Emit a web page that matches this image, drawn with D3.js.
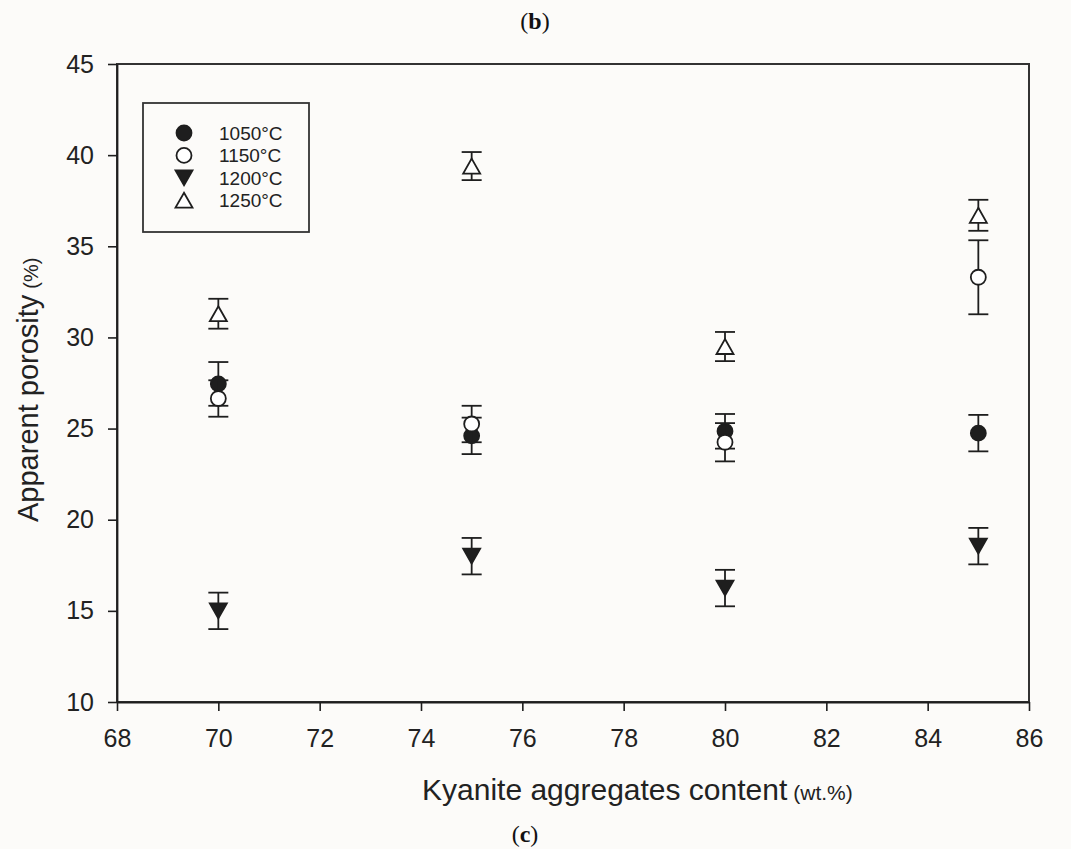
<!DOCTYPE html>
<html>
<head>
<meta charset="utf-8">
<script src="https://cdn.jsdelivr.net/npm/d3@7"></script>
<style>
  body { margin: 0; background: #fcfbf9; }
  svg { display: block; font-family: Arial, "Liberation Sans", sans-serif; }
</style>
</head>
<body>
<div id="chart"></div>
<script>
// kyanite aggregates content (wt.%)
const contents = [70, 75, 80, 85];
const temps = ["1050°C", "1150°C", "1200°C", "1250°C"];

// apparent porosity (%) and error bars, one pair per firing temperature
const por1050 = [27.45, 24.6, 24.85, 24.75];
const err1050 = [1.2, 1.0, 0.95, 1.0];
const por1150 = [26.65, 25.25, 24.25, 33.3];
const err1150 = [1.0, 1.0, 1.05, 2.03];
const por1200 = [15.0, 18.0, 16.25, 18.55];
const err1200 = [1.0, 1.0, 1.0, 1.0];
const por1250 = [31.3, 39.4, 29.5, 36.7];
const err1250 = [0.82, 0.77, 0.8, 0.85];

const xTicks = [68, 70, 72, 74, 76, 78, 80, 82, 84, 86];
const yTicks = [10, 15, 20, 25, 30, 35, 40, 45];

const width = 1071;
const height = 849;
const marginTop = 64;
const marginRight = 42;
const marginBottom = 147;
const marginLeft = 117;
const ink = "#1e1e1e";

// triangles centred on their bounding box, like the original software does
const triUp = {
  draw(ctx, s) {
    const h = s * 0.88;
    ctx.moveTo(0, -h / 2);
    ctx.lineTo(s / 2, h / 2);
    ctx.lineTo(-s / 2, h / 2);
    ctx.closePath();
  }
};
const triDown = {
  draw(ctx, s) {
    const h = s * 0.88;
    ctx.moveTo(0, h / 2);
    ctx.lineTo(s / 2, -h / 2);
    ctx.lineTo(-s / 2, -h / 2);
    ctx.closePath();
  }
};
const circ = {
  draw(ctx, s) {
    ctx.arc(0, 0, s / 2, 0, 2 * Math.PI);
  }
};

const series = [
  { name: temps[0], values: por1050, errors: err1050, shape: circ, size: 15, fill: ink },
  { name: temps[1], values: por1150, errors: err1150, shape: circ, size: 15, fill: "#fff" },
  { name: temps[2], values: por1200, errors: err1200, shape: triDown, size: 17, fill: ink },
  { name: temps[3], values: por1250, errors: err1250, shape: triUp, size: 17, fill: "#fff" }
];

const x = d3.scaleLinear([68, 86], [marginLeft, width - marginRight]);
const y = d3.scaleLinear([10, 45], [height - marginBottom, marginTop]);

const svg = d3.select("#chart")
  .append("svg")
  .attr("width", width)
  .attr("height", height)
  .attr("viewBox", [0, 0, width, height]);

svg.append("rect")
  .attr("width", width)
  .attr("height", height)
  .attr("fill", "#fcfbf9");

// caption of the panel above and this panel
svg.append("text")
  .attr("x", 535)
  .attr("y", 29)
  .attr("text-anchor", "middle")
  .style("font-family", "'Liberation Serif', 'Times New Roman', serif")
  .style("font-size", "24px")
  .attr("fill", "#111")
  .html("(<tspan font-weight='bold'>b</tspan>)");

svg.append("text")
  .attr("x", 525)
  .attr("y", 842)
  .attr("text-anchor", "middle")
  .style("font-family", "'Liberation Serif', 'Times New Roman', serif")
  .style("font-size", "24px")
  .attr("fill", "#111")
  .html("(<tspan font-weight='bold'>c</tspan>)");

// frame
svg.append("rect")
  .attr("x", x(68))
  .attr("y", y(45))
  .attr("width", x(86) - x(68))
  .attr("height", y(10) - y(45))
  .attr("fill", "none")
  .attr("stroke", "#333")
  .attr("stroke-width", 2);

const styleAxis = (g) => {
  g.attr("font-family", null).attr("font-size", null);
  g.select(".domain").attr("stroke", ink).attr("stroke-width", 1.8);
  g.selectAll(".tick line").attr("stroke", ink).attr("stroke-width", 1.6);
  g.selectAll(".tick text")
    .attr("fill", "#222")
    .style("font-size", "25px");
};

svg.append("g")
  .attr("transform", `translate(0,${y(10)})`)
  .call(d3.axisBottom(x).tickValues(xTicks).tickSize(9).tickSizeOuter(0).tickPadding(18))
  .call(styleAxis);

svg.append("g")
  .attr("transform", `translate(${x(68)},0)`)
  .call(d3.axisLeft(y).tickValues(yTicks).tickSize(9).tickSizeOuter(0).tickPadding(14))
  .call(styleAxis);

// axis titles
svg.append("text")
  .attr("x", 422)
  .attr("y", 800)
  .attr("fill", "#222")
  .style("font-size", "30px")
  .text("Kyanite aggregates content")
  .append("tspan")
  .attr("dx", 6)
  .style("font-size", "21px")
  .text("(wt.%)");

svg.append("text")
  .attr("transform", "translate(38,522) rotate(-90)")
  .attr("fill", "#222")
  .style("font-size", "29px")
  .text("Apparent porosity")
  .append("tspan")
  .attr("dx", 6)
  .style("font-size", "20px")
  .text("(%)");

// error bars and markers, series by series
const capHalf = 10;
for (const s of series) {
  const g = svg.append("g");
  const pts = contents.map((c, i) => ({ c, v: s.values[i], e: s.errors[i] }));

  const bars = g.selectAll("g.err")
    .data(pts)
    .join("g")
    .attr("class", "err")
    .attr("stroke", ink)
    .attr("stroke-width", 1.8);
  bars.append("line")
    .attr("x1", (d) => x(d.c)).attr("x2", (d) => x(d.c))
    .attr("y1", (d) => y(d.v - d.e)).attr("y2", (d) => y(d.v + d.e));
  bars.append("line")
    .attr("x1", (d) => x(d.c) - capHalf).attr("x2", (d) => x(d.c) + capHalf)
    .attr("y1", (d) => y(d.v + d.e)).attr("y2", (d) => y(d.v + d.e));
  bars.append("line")
    .attr("x1", (d) => x(d.c) - capHalf).attr("x2", (d) => x(d.c) + capHalf)
    .attr("y1", (d) => y(d.v - d.e)).attr("y2", (d) => y(d.v - d.e));

  g.selectAll("path.mark")
    .data(pts)
    .join("path")
    .attr("class", "mark")
    .attr("d", d3.symbol(s.shape, s.size))
    .attr("transform", (d) => `translate(${x(d.c)},${y(d.v)})`)
    .attr("fill", s.fill)
    .attr("stroke", ink)
    .attr("stroke-width", 1.8);
}

// legend
const legend = svg.append("g");
legend.append("rect")
  .attr("x", 143)
  .attr("y", 103)
  .attr("width", 166)
  .attr("height", 129)
  .attr("fill", "none")
  .attr("stroke", "#333")
  .attr("stroke-width", 1.8);

const rows = legend.selectAll("g.row")
  .data(series)
  .join("g")
  .attr("class", "row")
  .attr("transform", (d, i) => `translate(184,${133 + i * 22.4})`);
rows.append("path")
  .attr("d", (d) => d3.symbol(d.shape, d.size)())
  .attr("fill", (d) => d.fill)
  .attr("stroke", ink)
  .attr("stroke-width", 1.8);
rows.append("text")
  .attr("x", 35)
  .attr("dy", "0.36em")
  .attr("fill", "#222")
  .style("font-size", "19px")
  .text((d) => d.name);
</script>
</body>
</html>
